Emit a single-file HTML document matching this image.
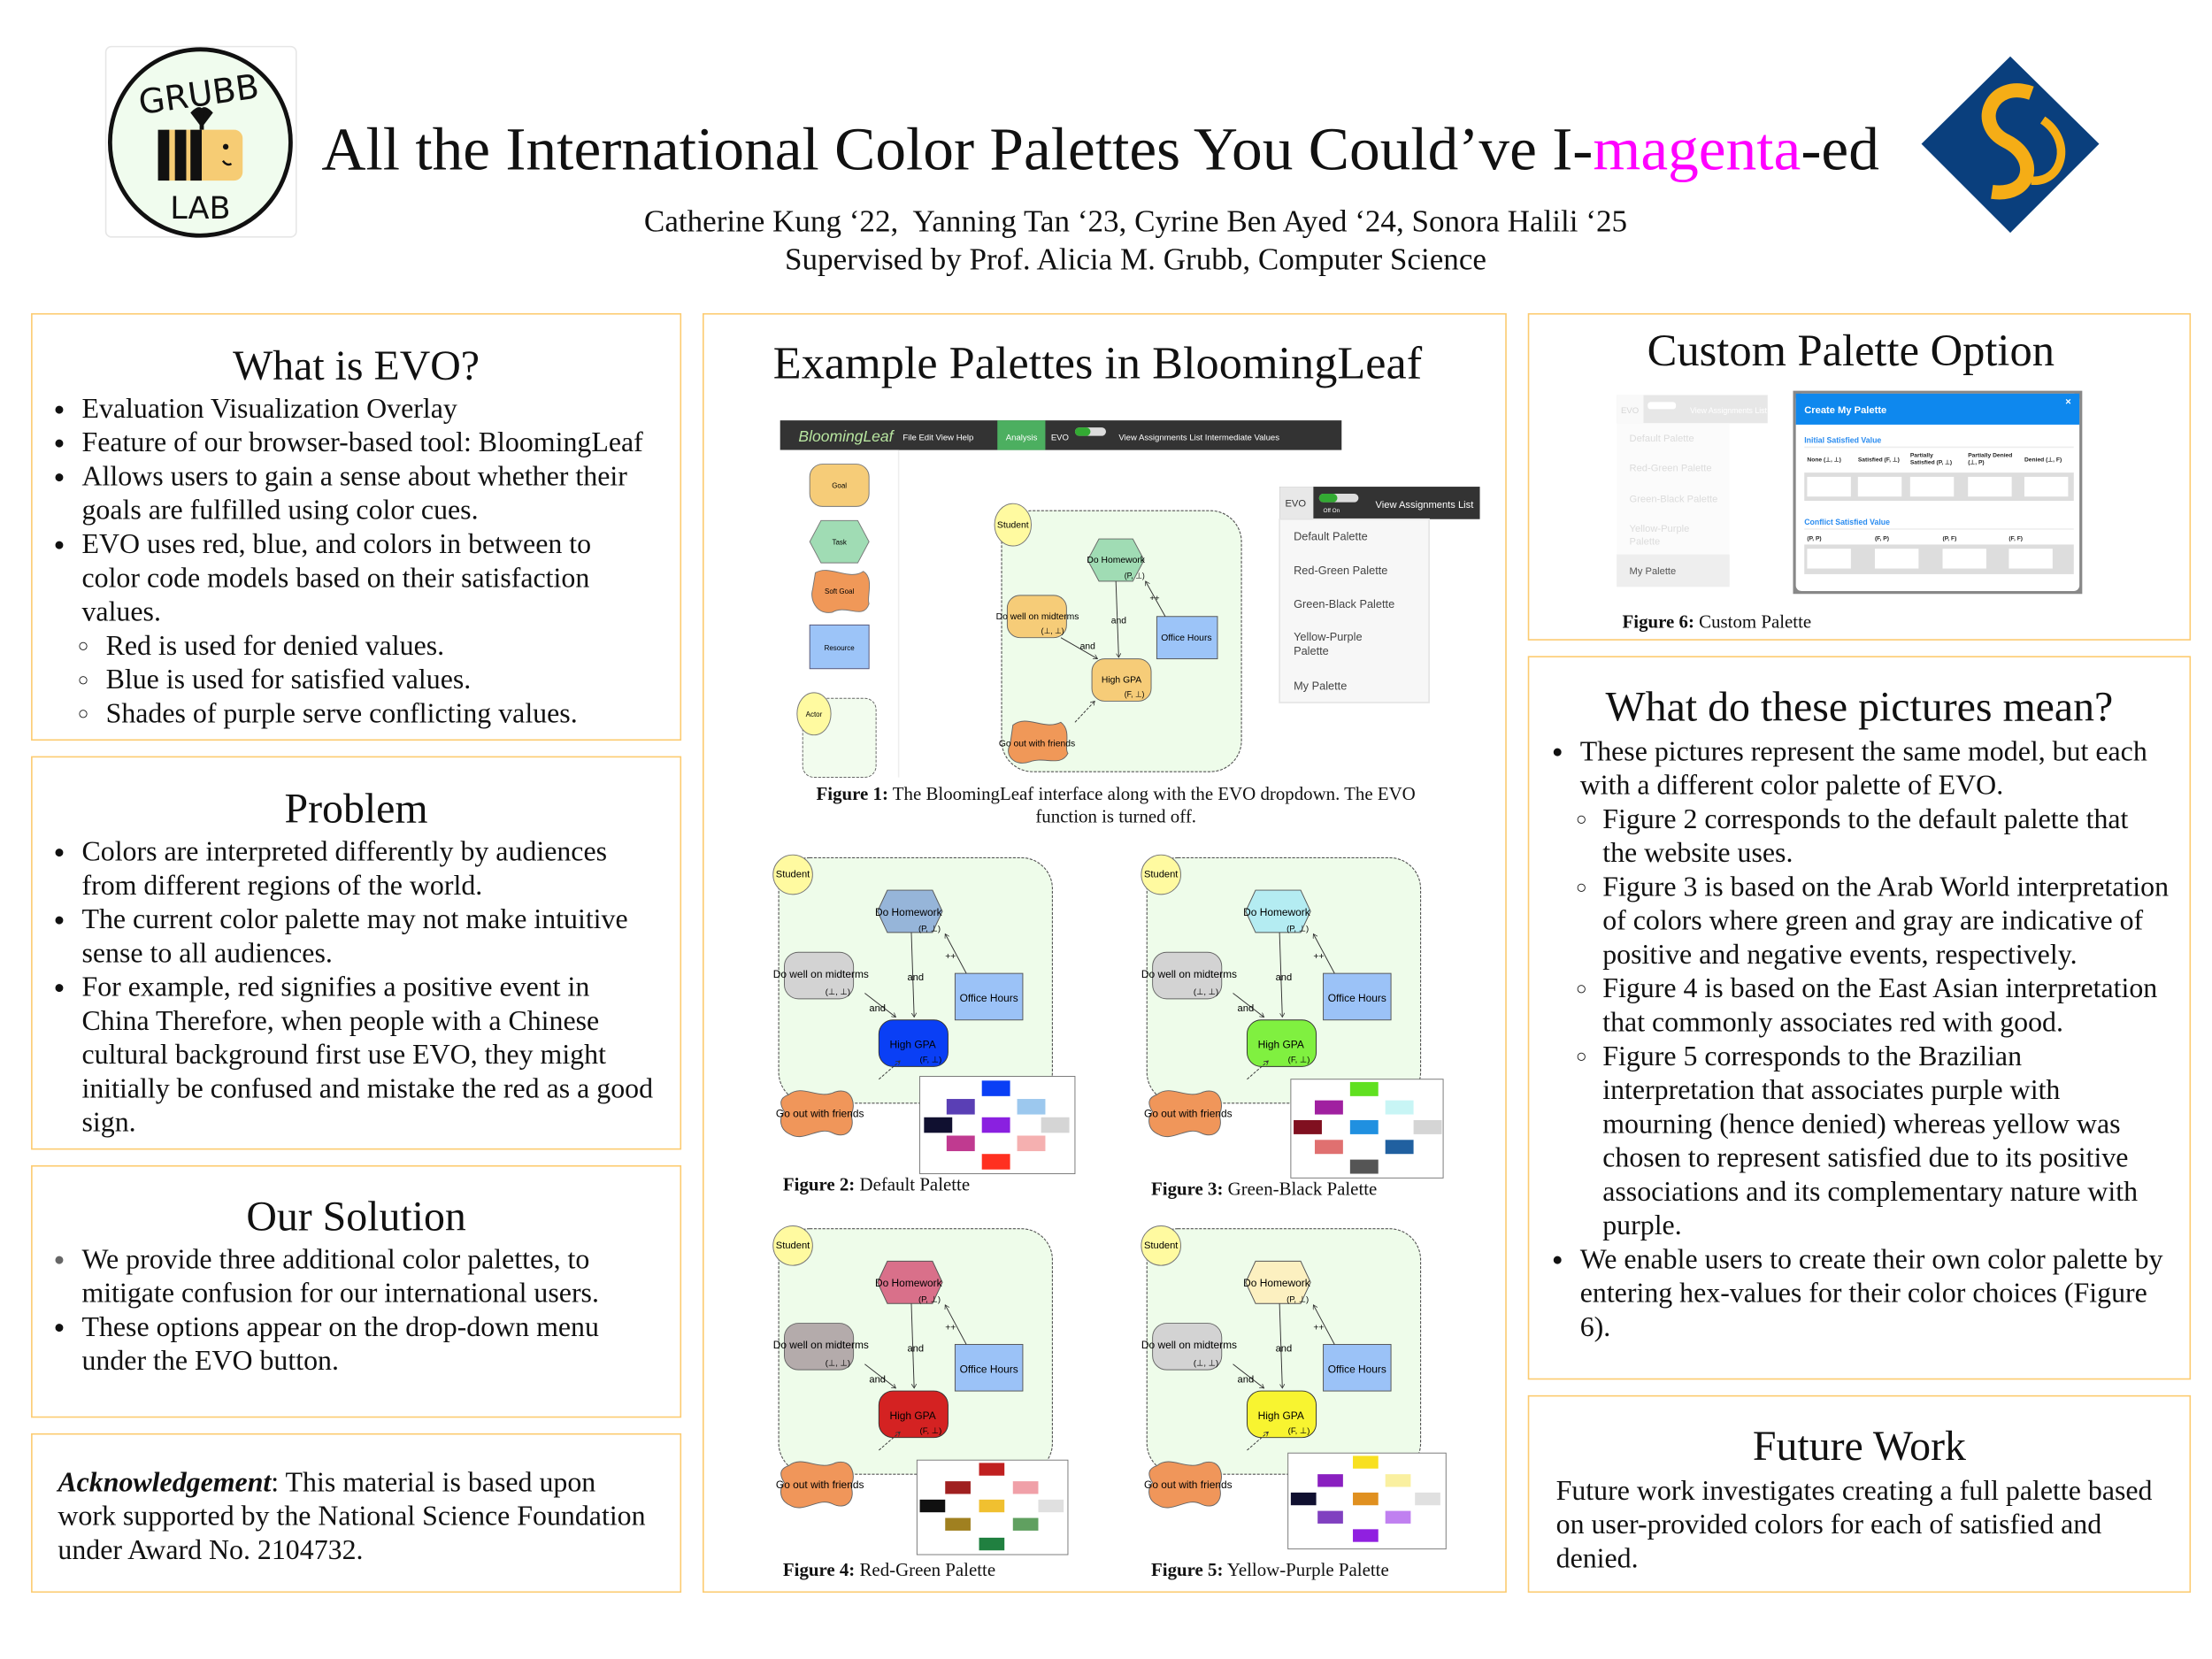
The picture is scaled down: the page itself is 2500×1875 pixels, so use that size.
<!DOCTYPE html>
<html><head><meta charset="utf-8"><style>
html,body{margin:0;padding:0;background:#fff;}
body{width:2500px;height:1875px;overflow:hidden;position:relative;}
#w{position:absolute;left:0;top:0;width:1568px;height:1176px;transform:scale(1.5944);transform-origin:0 0;font-family:"Liberation Serif",serif;color:#111;}
.p{position:absolute;border:1px solid #fccb70;box-sizing:border-box;}
.h{position:absolute;text-align:center;font-size:30px;line-height:34px;white-space:nowrap;}
.tx{position:absolute;font-size:20px;line-height:24px;white-space:nowrap;}
.li{position:relative;}
.b{position:absolute;font-size:13px;}
svg{position:absolute;left:0;top:0;}
.cap{position:absolute;font-size:13.1px;line-height:16px;white-space:nowrap;}
</style></head><body><div id="w">

<div class="p" style="left:22px;top:222px;width:461px;height:303px"></div>
<div class="p" style="left:22px;top:536px;width:461px;height:279px"></div>
<div class="p" style="left:22px;top:826px;width:461px;height:179px"></div>
<div class="p" style="left:22px;top:1016px;width:461px;height:113px"></div>
<div class="p" style="left:498px;top:222px;width:570px;height:907px"></div>
<div class="p" style="left:1083px;top:222px;width:470px;height:232px"></div>
<div class="p" style="left:1083px;top:465px;width:470px;height:513px"></div>
<div class="p" style="left:1083px;top:989px;width:470px;height:140px"></div>

<svg width="1568" height="1176" viewBox="0 0 1568 1176" font-family="Liberation Sans, sans-serif">
<defs><marker id="ar" markerWidth="6" markerHeight="6" refX="5" refY="3" orient="auto"><path d="M0,0 L5,3 L0,6" fill="none" stroke="#333" stroke-width="0.8"/></marker></defs>
<!-- Grubb logo -->
<rect x="75" y="33" width="135" height="135" rx="4" fill="#fff" stroke="#e6e6e6"/>
<ellipse cx="142" cy="101" rx="64" ry="66" fill="#f0fcee" stroke="#111" stroke-width="3"/>
<text x="142" y="75" text-anchor="middle" font-size="24" font-family="DejaVu Sans, sans-serif" fill="#111" transform="rotate(-8 142 75)">GRUBB</text>
<text x="142" y="155" text-anchor="middle" font-size="22" font-family="DejaVu Sans, sans-serif" fill="#111">LAB</text>
<rect x="112" y="92" width="60" height="36" rx="6" fill="#f6cc74"/>
<rect x="112" y="92" width="8" height="36" fill="#111"/><rect x="124" y="92" width="8" height="36" fill="#111"/><rect x="135" y="92" width="8" height="36" fill="#111"/>
<path d="M143,92 L143,82 M137,80 Q143,74 143,82 Q143,74 149,80 L143,88Z" stroke="#111" stroke-width="3" fill="#111"/>
<circle cx="160" cy="104" r="2" fill="#111"/><path d="M158,114 Q161,118 164,116" stroke="#111" stroke-width="1.5" fill="none"/>
<!-- SC logo -->
<polygon points="1425,40 1488,102 1425,165 1362,102" fill="#0a3f7d"/>
<path d="M1440,66 C1412,56 1398,88 1422,100 C1446,112 1440,140 1412,136" stroke="#f5ad16" stroke-width="10" fill="none"/>
<path d="M1448,85 C1470,100 1462,130 1440,128" stroke="#f5ad16" stroke-width="6" fill="none"/>

<!-- Figure 1 -->
<rect x="553" y="298" width="398" height="21" fill="#333"/>
<rect x="707" y="298" width="34" height="21" fill="#4caf60"/>
<text x="566" y="313" font-size="11" font-style="italic" fill="#b8e6a0">BloomingLeaf</text>
<text x="640" y="312" font-size="6" fill="#fff">File   Edit   View   Help</text>
<text x="713" y="312" font-size="6" fill="#fff">Analysis</text>
<text x="745" y="312" font-size="6" fill="#fff">EVO</text>
<rect x="762" y="303" width="22" height="6" rx="3" fill="#ddd"/><rect x="762" y="303" width="11" height="6" rx="3" fill="#3a3"/>
<text x="793" y="312" font-size="6" fill="#fff">View Assignments List    Intermediate Values</text>
<rect x="553" y="319" width="84" height="232" fill="#fff"/>
<line x1="637" y1="319" x2="637" y2="551" stroke="#eee"/>
<rect x="574" y="329" width="42" height="30" rx="9" fill="#f6cc78" stroke="#777" stroke-width=".6"/><text x="595" y="346" font-size="5" text-anchor="middle">Goal</text>
<polygon points="582,369 608,369 616,384 608,399 582,399 574,384" fill="#a0dcb4" stroke="#777" stroke-width=".6"/><text x="595" y="386" font-size="5" text-anchor="middle">Task</text>
<path d="M578,406 C588,400 602,412 612,405 C620,410 614,424 616,428 C612,440 600,428 590,434 C578,436 574,424 576,418Z" fill="#f09858" stroke="#777" stroke-width=".6"/><text x="595" y="421" font-size="5" text-anchor="middle">Soft Goal</text>
<rect x="574" y="443" width="42" height="31" fill="#9cc4f8" stroke="#557" stroke-width=".6"/><text x="595" y="461" font-size="5" text-anchor="middle">Resource</text>
<rect x="569" y="495" width="52" height="56" rx="8" fill="#f2fcee" stroke="#666" stroke-width=".6" stroke-dasharray="2,1"/>
<ellipse cx="577" cy="506" rx="12" ry="15" fill="#fffaa0" stroke="#777" stroke-width=".6"/><text x="577" y="508" font-size="5" text-anchor="middle">Actor</text>
<rect x="710" y="362" width="170" height="185" rx="22" fill="#eefcea" stroke="#555" stroke-width=".7" stroke-dasharray="2,1"/>
<ellipse cx="718" cy="372" rx="13" ry="15" fill="#fffaa0" stroke="#777" stroke-width=".6"/><text x="718" y="374" font-size="6.5" text-anchor="middle">Student</text>
<polygon points="779,382 803,382 811,397 803,412 779,412 771,397" fill="#a0dcb4" stroke="#666" stroke-width=".6"/><text x="791" y="399" font-size="6.5" text-anchor="middle">Do Homework</text><text x="797" y="410" font-size="5.5">(P, ⊥)</text>
<rect x="714" y="422" width="42" height="30" rx="9" fill="#f6cc78" stroke="#666" stroke-width=".6"/><text x="706" y="439" font-size="6.5">Do well on midterms</text><text x="738" y="449" font-size="5.5">(⊥, ⊥)</text>
<rect x="820" y="437" width="43" height="30" fill="#9cc4f8" stroke="#555" stroke-width=".6"/><text x="841" y="454" font-size="6.5" text-anchor="middle">Office Hours</text>
<rect x="774" y="467" width="42" height="30" rx="9" fill="#f6cc78" stroke="#666" stroke-width=".6"/><text x="795" y="484" font-size="6.5" text-anchor="middle">High GPA</text><text x="797" y="494" font-size="5.5">(F, ⊥)</text>
<path d="M718,514 C728,506 740,518 752,512 C760,518 754,530 757,534 C752,544 740,536 730,540 C718,544 712,534 716,528Z" fill="#f09858" stroke="#666" stroke-width=".6"/><text x="708" y="529" font-size="6.5">Go out with friends</text>
<line x1="791" y1="412" x2="793" y2="466" stroke="#333" stroke-width=".6" marker-end="url(#ar)"/><text x="793" y="442" font-size="6.5" text-anchor="middle">and</text>
<line x1="826" y1="437" x2="812" y2="412" stroke="#333" stroke-width=".6" marker-end="url(#ar)"/><text x="815" y="426" font-size="6">++</text>
<line x1="752" y1="452" x2="778" y2="467" stroke="#333" stroke-width=".6" marker-end="url(#ar)"/><text x="771" y="460" font-size="6.5" text-anchor="middle">and</text>
<line x1="762" y1="512" x2="776" y2="497" stroke="#333" stroke-width=".6" stroke-dasharray="2,1" marker-end="url(#ar)"/>
<rect x="907" y="345" width="142" height="23" fill="#333"/><rect x="907" y="345" width="24" height="23" fill="#e8e8e8"/>
<text x="911" y="359" font-size="7" fill="#333">EVO</text>
<rect x="935" y="350" width="28" height="6" rx="3" fill="#ddd"/><rect x="935" y="350" width="13" height="6" rx="3" fill="#3a3"/>
<text x="938" y="363" font-size="4" fill="#fff">Off  On</text>
<text x="975" y="360" font-size="7" fill="#fff">View Assignments List</text>
<rect x="907" y="368" width="106" height="130" fill="#f7f7f7" stroke="#e4e4e4"/>
<g font-size="8" fill="#444"><text x="917" y="383">Default Palette</text><text x="917" y="407">Red-Green Palette</text><text x="917" y="431">Green-Black Palette</text><text x="917" y="454">Yellow-Purple</text><text x="917" y="464">Palette</text><text x="917" y="489">My Palette</text></g>

<!-- Figures 2-5 -->
<g transform="translate(545,600)">
<rect x="7" y="8" width="194" height="174" rx="22" fill="#eefcea" stroke="#555" stroke-width=".7" stroke-dasharray="2,1"/>
<circle cx="17" cy="20" r="14" fill="#fffaa0" stroke="#777" stroke-width=".6"/><text x="17" y="22" font-size="7" text-anchor="middle">Student</text>
<polygon points="84,31 116,31 123,46 116,61 84,61 77,46" fill="#96b5d9" stroke="#555" stroke-width=".6"/><text x="99" y="49" font-size="7.5" text-anchor="middle">Do Homework</text><text x="106" y="60" font-size="6">(P, ⊥)</text>
<rect x="11" y="75" width="49" height="33" rx="10" fill="#d3d3d3" stroke="#666" stroke-width=".6"/><text x="3" y="93" font-size="7.5">Do well on midterms</text><text x="40" y="105" font-size="6">(⊥, ⊥)</text>
<rect x="132" y="90" width="48" height="33" fill="#9bc2f7" stroke="#555" stroke-width=".6"/><text x="156" y="110" font-size="7.5" text-anchor="middle">Office Hours</text>
<rect x="78" y="123" width="49" height="33" rx="10" fill="#0a3ff5" stroke="#333" stroke-width=".6"/><text x="102" y="143" font-size="7.5" text-anchor="middle">High GPA</text><text x="107" y="153" font-size="6">(F, ⊥)</text>
<path d="M14,176 C24,168 35,180 47,174 C60,170 62,185 58,190 C62,200 55,208 45,203 C35,198 25,210 15,204 C6,200 8,190 11,188 C7,182 8,178 14,176Z" fill="#f0965a" stroke="#666" stroke-width=".6"/><text x="5" y="192" font-size="7.5">Go out with friends</text>
<line x1="101" y1="61" x2="103" y2="121" stroke="#333" stroke-width=".6" marker-end="url(#ar)"/><text x="104" y="95" font-size="7" text-anchor="middle">and</text>
<line x1="140" y1="90" x2="125" y2="62" stroke="#333" stroke-width=".6" marker-end="url(#ar)"/><text x="125" y="80" font-size="6.5">++</text>
<line x1="68" y1="104" x2="90" y2="121" stroke="#333" stroke-width=".6" marker-end="url(#ar)"/><text x="77" y="117" font-size="7" text-anchor="middle">and</text>
<line x1="78" y1="165" x2="93" y2="152" stroke="#333" stroke-width=".6" stroke-dasharray="2,1" marker-end="url(#ar)"/>
<rect x="107" y="163" width="110" height="69" fill="#fff" stroke="#777" stroke-width=".6"/>
<rect x="151" y="166" width="20" height="11" fill="#0a3ff5"/><rect x="126" y="179" width="20" height="11" fill="#5a3fb5"/><rect x="176" y="179" width="20" height="11" fill="#9cc8ee"/>
<rect x="110" y="192" width="20" height="11" fill="#101030"/><rect x="151" y="192" width="20" height="11" fill="#8a20e0"/><rect x="193" y="192" width="20" height="11" fill="#d5d5d5"/>
<rect x="126" y="205" width="20" height="11" fill="#c03a90"/><rect x="176" y="205" width="20" height="11" fill="#f5b0b0"/><rect x="151" y="218" width="20" height="11" fill="#ff3020"/>
</g>

<g transform="translate(806,600)">
<rect x="7" y="8" width="194" height="174" rx="22" fill="#eefcea" stroke="#555" stroke-width=".7" stroke-dasharray="2,1"/>
<circle cx="17" cy="20" r="14" fill="#fffaa0" stroke="#777" stroke-width=".6"/><text x="17" y="22" font-size="7" text-anchor="middle">Student</text>
<polygon points="84,31 116,31 123,46 116,61 84,61 77,46" fill="#b4ecf2" stroke="#555" stroke-width=".6"/><text x="99" y="49" font-size="7.5" text-anchor="middle">Do Homework</text><text x="106" y="60" font-size="6">(P, ⊥)</text>
<rect x="11" y="75" width="49" height="33" rx="10" fill="#d3d3d3" stroke="#666" stroke-width=".6"/><text x="3" y="93" font-size="7.5">Do well on midterms</text><text x="40" y="105" font-size="6">(⊥, ⊥)</text>
<rect x="132" y="90" width="48" height="33" fill="#9bc2f7" stroke="#555" stroke-width=".6"/><text x="156" y="110" font-size="7.5" text-anchor="middle">Office Hours</text>
<rect x="78" y="123" width="49" height="33" rx="10" fill="#80f040" stroke="#333" stroke-width=".6"/><text x="102" y="143" font-size="7.5" text-anchor="middle">High GPA</text><text x="107" y="153" font-size="6">(F, ⊥)</text>
<path d="M14,176 C24,168 35,180 47,174 C60,170 62,185 58,190 C62,200 55,208 45,203 C35,198 25,210 15,204 C6,200 8,190 11,188 C7,182 8,178 14,176Z" fill="#f0965a" stroke="#666" stroke-width=".6"/><text x="5" y="192" font-size="7.5">Go out with friends</text>
<line x1="101" y1="61" x2="103" y2="121" stroke="#333" stroke-width=".6" marker-end="url(#ar)"/><text x="104" y="95" font-size="7" text-anchor="middle">and</text>
<line x1="140" y1="90" x2="125" y2="62" stroke="#333" stroke-width=".6" marker-end="url(#ar)"/><text x="125" y="80" font-size="6.5">++</text>
<line x1="68" y1="104" x2="90" y2="121" stroke="#333" stroke-width=".6" marker-end="url(#ar)"/><text x="77" y="117" font-size="7" text-anchor="middle">and</text>
<line x1="78" y1="165" x2="93" y2="152" stroke="#333" stroke-width=".6" stroke-dasharray="2,1" marker-end="url(#ar)"/>
<rect x="109" y="165" width="108" height="70" fill="#fff" stroke="#777" stroke-width=".6"/>
<rect x="151" y="167" width="20" height="10" fill="#60e020"/><rect x="126" y="180" width="20" height="10" fill="#a020a0"/><rect x="176" y="180" width="20" height="10" fill="#c8f5f5"/>
<rect x="111" y="194" width="20" height="10" fill="#801020"/><rect x="151" y="194" width="20" height="10" fill="#2090e0"/><rect x="196" y="194" width="20" height="10" fill="#d5d5d5"/>
<rect x="126" y="208" width="20" height="10" fill="#e07070"/><rect x="176" y="208" width="20" height="10" fill="#2060a0"/><rect x="151" y="222" width="20" height="10" fill="#555"/>
</g>

<g transform="translate(545,863)">
<rect x="7" y="8" width="194" height="174" rx="22" fill="#eefcea" stroke="#555" stroke-width=".7" stroke-dasharray="2,1"/>
<circle cx="17" cy="20" r="14" fill="#fffaa0" stroke="#777" stroke-width=".6"/><text x="17" y="22" font-size="7" text-anchor="middle">Student</text>
<polygon points="84,31 116,31 123,46 116,61 84,61 77,46" fill="#d9708a" stroke="#555" stroke-width=".6"/><text x="99" y="49" font-size="7.5" text-anchor="middle">Do Homework</text><text x="106" y="60" font-size="6">(P, ⊥)</text>
<rect x="11" y="75" width="49" height="33" rx="10" fill="#b4abab" stroke="#666" stroke-width=".6"/><text x="3" y="93" font-size="7.5">Do well on midterms</text><text x="40" y="105" font-size="6">(⊥, ⊥)</text>
<rect x="132" y="90" width="48" height="33" fill="#9bc2f7" stroke="#555" stroke-width=".6"/><text x="156" y="110" font-size="7.5" text-anchor="middle">Office Hours</text>
<rect x="78" y="123" width="49" height="33" rx="10" fill="#d42222" stroke="#333" stroke-width=".6"/><text x="102" y="143" font-size="7.5" text-anchor="middle">High GPA</text><text x="107" y="153" font-size="6">(F, ⊥)</text>
<path d="M14,176 C24,168 35,180 47,174 C60,170 62,185 58,190 C62,200 55,208 45,203 C35,198 25,210 15,204 C6,200 8,190 11,188 C7,182 8,178 14,176Z" fill="#f0965a" stroke="#666" stroke-width=".6"/><text x="5" y="192" font-size="7.5">Go out with friends</text>
<line x1="101" y1="61" x2="103" y2="121" stroke="#333" stroke-width=".6" marker-end="url(#ar)"/><text x="104" y="95" font-size="7" text-anchor="middle">and</text>
<line x1="140" y1="90" x2="125" y2="62" stroke="#333" stroke-width=".6" marker-end="url(#ar)"/><text x="125" y="80" font-size="6.5">++</text>
<line x1="68" y1="104" x2="90" y2="121" stroke="#333" stroke-width=".6" marker-end="url(#ar)"/><text x="77" y="117" font-size="7" text-anchor="middle">and</text>
<line x1="78" y1="165" x2="93" y2="152" stroke="#333" stroke-width=".6" stroke-dasharray="2,1" marker-end="url(#ar)"/>
<rect x="105" y="172" width="107" height="67" fill="#fff" stroke="#777" stroke-width=".6"/>
<rect x="149" y="174" width="18" height="9" fill="#c02020"/><rect x="125" y="187" width="18" height="9" fill="#a02020"/><rect x="173" y="187" width="18" height="9" fill="#f0a0a8"/>
<rect x="107" y="200" width="18" height="9" fill="#101010"/><rect x="149" y="200" width="18" height="9" fill="#f0c030"/><rect x="191" y="200" width="18" height="9" fill="#e0e0e0"/>
<rect x="125" y="213" width="18" height="9" fill="#a08020"/><rect x="173" y="213" width="18" height="9" fill="#60a060"/><rect x="149" y="227" width="18" height="9" fill="#208040"/>
</g>

<g transform="translate(806,863)">
<rect x="7" y="8" width="194" height="174" rx="22" fill="#eefcea" stroke="#555" stroke-width=".7" stroke-dasharray="2,1"/>
<circle cx="17" cy="20" r="14" fill="#fffaa0" stroke="#777" stroke-width=".6"/><text x="17" y="22" font-size="7" text-anchor="middle">Student</text>
<polygon points="84,31 116,31 123,46 116,61 84,61 77,46" fill="#fcf0c0" stroke="#555" stroke-width=".6"/><text x="99" y="49" font-size="7.5" text-anchor="middle">Do Homework</text><text x="106" y="60" font-size="6">(P, ⊥)</text>
<rect x="11" y="75" width="49" height="33" rx="10" fill="#d3d3d3" stroke="#666" stroke-width=".6"/><text x="3" y="93" font-size="7.5">Do well on midterms</text><text x="40" y="105" font-size="6">(⊥, ⊥)</text>
<rect x="132" y="90" width="48" height="33" fill="#9bc2f7" stroke="#555" stroke-width=".6"/><text x="156" y="110" font-size="7.5" text-anchor="middle">Office Hours</text>
<rect x="78" y="123" width="49" height="33" rx="10" fill="#f8f430" stroke="#333" stroke-width=".6"/><text x="102" y="143" font-size="7.5" text-anchor="middle">High GPA</text><text x="107" y="153" font-size="6">(F, ⊥)</text>
<path d="M14,176 C24,168 35,180 47,174 C60,170 62,185 58,190 C62,200 55,208 45,203 C35,198 25,210 15,204 C6,200 8,190 11,188 C7,182 8,178 14,176Z" fill="#f0965a" stroke="#666" stroke-width=".6"/><text x="5" y="192" font-size="7.5">Go out with friends</text>
<line x1="101" y1="61" x2="103" y2="121" stroke="#333" stroke-width=".6" marker-end="url(#ar)"/><text x="104" y="95" font-size="7" text-anchor="middle">and</text>
<line x1="140" y1="90" x2="125" y2="62" stroke="#333" stroke-width=".6" marker-end="url(#ar)"/><text x="125" y="80" font-size="6.5">++</text>
<line x1="68" y1="104" x2="90" y2="121" stroke="#333" stroke-width=".6" marker-end="url(#ar)"/><text x="77" y="117" font-size="7" text-anchor="middle">and</text>
<line x1="78" y1="165" x2="93" y2="152" stroke="#333" stroke-width=".6" stroke-dasharray="2,1" marker-end="url(#ar)"/>
<rect x="107" y="167" width="112" height="68" fill="#fff" stroke="#777" stroke-width=".6"/>
<rect x="153" y="169" width="18" height="9" fill="#f8e020"/><rect x="128" y="182" width="18" height="9" fill="#8a20c0"/><rect x="176" y="182" width="18" height="9" fill="#faf0a0"/>
<rect x="109" y="195" width="18" height="9" fill="#101030"/><rect x="153" y="195" width="18" height="9" fill="#e09020"/><rect x="197" y="195" width="18" height="9" fill="#e0e0e0"/>
<rect x="128" y="208" width="18" height="9" fill="#8040c0"/><rect x="176" y="208" width="18" height="9" fill="#c080f0"/><rect x="153" y="221" width="18" height="9" fill="#9020e0"/>
</g>

<!-- Figure 6 -->
<g opacity="0.35">
<rect x="1146" y="280" width="107" height="20" fill="#bbb"/><rect x="1146" y="280" width="19" height="20" fill="#eee"/>
<text x="1149" y="293" font-size="6" fill="#888">EVO</text><rect x="1168" y="285" width="20" height="5" rx="2" fill="#fff"/>
<text x="1198" y="293" font-size="5.5" fill="#fff">View Assignments List</text>
<rect x="1146" y="300" width="80" height="116" fill="#f4f4f4"/>
<g font-size="7" fill="#999"><text x="1155" y="313">Default Palette</text><text x="1155" y="334">Red-Green Palette</text><text x="1155" y="356">Green-Black Palette</text><text x="1155" y="377">Yellow-Purple</text><text x="1155" y="386">Palette</text></g>
</g>
<rect x="1146" y="393" width="80" height="23" fill="#eee"/><text x="1155" y="407" font-size="7" fill="#555">My Palette</text>
<rect x="1271" y="277" width="205" height="144" fill="#888"/>
<rect x="1273" y="279" width="201" height="140" rx="4" fill="#fff"/>
<rect x="1273" y="279" width="201" height="22" fill="#0e88ee"/>
<text x="1279" y="293" font-size="7" font-weight="bold" fill="#fff">Create My Palette</text><text x="1464" y="287" font-size="7" font-weight="bold" fill="#fff">×</text>
<text x="1279" y="314" font-size="5.5" font-weight="bold" fill="#2a8cf0">Initial Satisfied Value</text>
<line x1="1279" y1="317" x2="1470" y2="317" stroke="#eee"/>
<g font-size="4.2" font-weight="bold" fill="#222"><text x="1281" y="327">None (⊥, ⊥)</text><text x="1317" y="327">Satisfied (F, ⊥)</text><text x="1354" y="324">Partially</text><text x="1354" y="329">Satisfied (P, ⊥)</text><text x="1395" y="324">Partially Denied</text><text x="1395" y="329">(⊥, P)</text><text x="1435" y="327">Denied (⊥, F)</text></g>
<rect x="1279" y="335" width="191" height="20" fill="#ddd"/>
<g fill="#fff"><rect x="1281" y="338" width="31" height="14"/><rect x="1317" y="338" width="31" height="14"/><rect x="1354" y="338" width="31" height="14"/><rect x="1395" y="338" width="31" height="14"/><rect x="1435" y="338" width="31" height="14"/></g>
<text x="1279" y="372" font-size="5.5" font-weight="bold" fill="#2a8cf0">Conflict Satisfied Value</text>
<line x1="1279" y1="375" x2="1470" y2="375" stroke="#eee"/>
<g font-size="4.2" font-weight="bold" fill="#222"><text x="1281" y="383">(P, P)</text><text x="1329" y="383">(F, P)</text><text x="1377" y="383">(P, F)</text><text x="1424" y="383">(F, F)</text></g>
<rect x="1279" y="386" width="191" height="21" fill="#ddd"/>
<g fill="#fff"><rect x="1281" y="389" width="31" height="14"/><rect x="1329" y="389" width="31" height="14"/><rect x="1377" y="389" width="31" height="14"/><rect x="1424" y="389" width="31" height="14"/></g>
</svg>

<!-- Header -->
<div style="position:absolute;left:0;width:1560px;top:80px;text-align:center;font-size:43.5px;line-height:52px;white-space:nowrap">All the International Color Palettes You Could’ve I-<span style="color:#ff00ff">magenta</span>-ed</div>
<div style="position:absolute;left:0;width:1610px;top:143px;text-align:center;font-size:22px;line-height:27px;white-space:nowrap">Catherine Kung ‘22,&nbsp; Yanning Tan ‘23, Cyrine Ben Ayed ‘24, Sonora Halili ‘25<br>Supervised by Prof. Alicia M. Grubb, Computer Science</div>

<!-- Left panels -->
<div class="h" style="left:22px;width:461px;top:243px">What is EVO?</div>
<div class="tx" style="left:58px;top:278px">
<div class="li"><span class="b" style="left:-20px">●</span>Evaluation Visualization Overlay</div>
<div class="li"><span class="b" style="left:-20px">●</span>Feature of our browser-based tool: BloomingLeaf</div>
<div class="li"><span class="b" style="left:-20px">●</span>Allows users to gain a sense about whether their<br>goals are fulfilled using color cues.</div>
<div class="li"><span class="b" style="left:-20px">●</span>EVO uses red, blue, and colors in between to<br>color code models based on their satisfaction<br>values.</div>
<div class="li" style="padding-left:17px"><span class="b" style="left:-3px">○</span>Red is used for denied values.</div>
<div class="li" style="padding-left:17px"><span class="b" style="left:-3px">○</span>Blue is used for satisfied values.</div>
<div class="li" style="padding-left:17px"><span class="b" style="left:-3px">○</span>Shades of purple serve conflicting values.</div>
</div>

<div class="h" style="left:22px;width:461px;top:557px">Problem</div>
<div class="tx" style="left:58px;top:592px">
<div class="li"><span class="b" style="left:-20px">●</span>Colors are interpreted differently by audiences<br>from different regions of the world.</div>
<div class="li"><span class="b" style="left:-20px">●</span>The current color palette may not make intuitive<br>sense to all audiences.</div>
<div class="li"><span class="b" style="left:-20px">●</span>For example, red signifies a positive event in<br>China Therefore, when people with a Chinese<br>cultural background first use EVO, they might<br>initially be confused and mistake the red as a good<br>sign.</div>
</div>

<div class="h" style="left:22px;width:461px;top:846px">Our Solution</div>
<div class="tx" style="left:58px;top:881px">
<div class="li"><span class="b" style="left:-20px;color:#666">●</span>We provide three additional color palettes, to<br>mitigate confusion for our international users.</div>
<div class="li"><span class="b" style="left:-20px">●</span>These options appear on the drop-down menu<br>under the EVO button.</div>
</div>

<div class="tx" style="left:41px;top:1039px"><b><i>Acknowledgement</i></b>: This material is based upon<br>work supported by the National Science Foundation<br>under Award No. 2104732.</div>

<!-- Middle -->
<div class="h" style="left:498px;width:560px;top:241px;font-size:32.8px">Example Palettes in BloomingLeaf</div>
<div class="cap" style="left:551px;width:480px;top:555px;text-align:center"><b>Figure 1:</b> The BloomingLeaf interface along with the EVO dropdown. The EVO<br>function is turned off.</div>
<div class="cap" style="left:555px;top:832px"><b>Figure 2:</b> Default Palette</div>
<div class="cap" style="left:816px;top:835px"><b>Figure 3:</b> Green-Black Palette</div>
<div class="cap" style="left:555px;top:1105px"><b>Figure 4:</b> Red-Green Palette</div>
<div class="cap" style="left:816px;top:1105px"><b>Figure 5:</b> Yellow-Purple Palette</div>

<!-- Right -->
<div class="h" style="left:1077px;width:470px;top:232px;font-size:31.7px">Custom Palette Option</div>
<div class="cap" style="left:1150px;top:433px"><b>Figure 6:</b> Custom Palette</div>

<div class="h" style="left:1083px;width:470px;top:485px">What do these pictures mean?</div>
<div class="tx" style="left:1120px;top:521px">
<div class="li"><span class="b" style="left:-20px">●</span>These pictures represent the same model, but each<br>with a different color palette of EVO.</div>
<div class="li" style="padding-left:16px"><span class="b" style="left:-3px">○</span>Figure 2 corresponds to the default palette that<br>the website uses.</div>
<div class="li" style="padding-left:16px"><span class="b" style="left:-3px">○</span>Figure 3 is based on the Arab World interpretation<br>of colors where green and gray are indicative of<br>positive and negative events, respectively.</div>
<div class="li" style="padding-left:16px"><span class="b" style="left:-3px">○</span>Figure 4 is based on the East Asian interpretation<br>that commonly associates red with good.</div>
<div class="li" style="padding-left:16px"><span class="b" style="left:-3px">○</span>Figure 5 corresponds to the Brazilian<br>interpretation that associates purple with<br>mourning (hence denied) whereas yellow was<br>chosen to represent satisfied due to its positive<br>associations and its complementary nature with<br>purple.</div>
<div class="li"><span class="b" style="left:-20px">●</span>We enable users to create their own color palette by<br>entering hex-values for their color choices (Figure<br>6).</div>
</div>

<div class="h" style="left:1083px;width:470px;top:1009px">Future Work</div>
<div class="tx" style="left:1103px;top:1045px">Future work investigates creating a full palette based<br>on user-provided colors for each of satisfied and<br>denied.</div>

</div></body></html>
